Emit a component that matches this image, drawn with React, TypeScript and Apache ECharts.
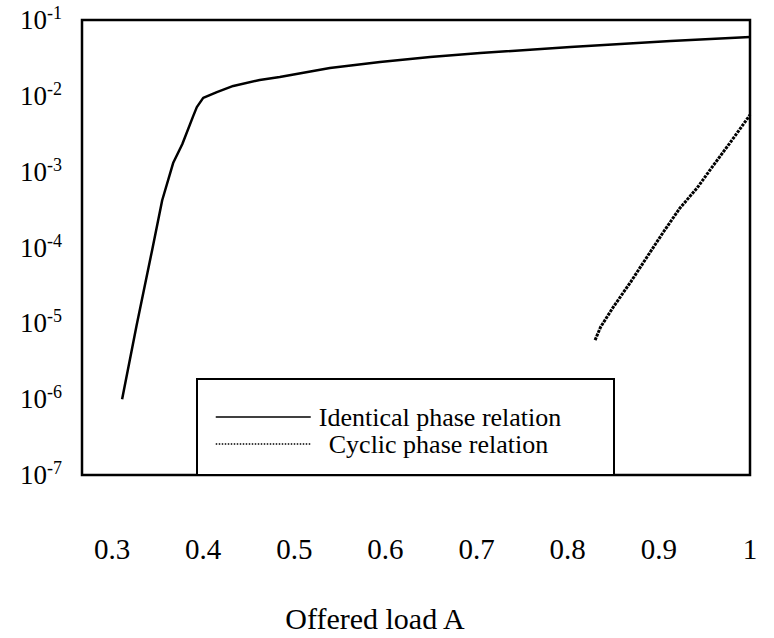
import React, { useEffect, useRef } from "react";
import * as echarts from "echarts";

// Offered load A (x) and blocking probability (y)
const identicalLoad = [0.311, 0.327, 0.344, 0.355, 0.367, 0.377, 0.389, 0.393, 0.4, 0.415, 0.433, 0.462, 0.484, 0.539, 0.594, 0.649, 0.704, 0.803, 0.913, 1.0];
const identicalProb = [1.0e-6, 9.5e-6, 9.3e-5, 4.2e-4, 1.3e-3, 2.3e-3, 5.4e-3, 7.1e-3, 9.4e-3, 1.12e-2, 1.35e-2, 1.62e-2, 1.77e-2, 2.33e-2, 2.79e-2, 3.25e-2, 3.67e-2, 4.41e-2, 5.28e-2, 5.97e-2];

const cyclicLoad = [0.83, 0.836, 0.85, 0.869, 0.887, 0.905, 0.923, 0.942, 0.96, 0.978, 1.0];
const cyclicProb = [6.0e-6, 8.9e-6, 1.64e-5, 3.5e-5, 7.5e-5, 1.6e-4, 3.3e-4, 6.1e-4, 1.22e-3, 2.39e-3, 5.6e-3];

const xTickValues = [0.3, 0.4, 0.5, 0.6, 0.7, 0.8, 0.9, 1.0];
const seriesNames = ["Identical phase relation", "Cyclic phase relation"];
const xAxisTitle = "Offered load A";

const FONT = "'Liberation Serif', 'Times New Roman', serif";

export default function App() {
  const ref = useRef<HTMLDivElement>(null);

  useEffect(() => {
    if (!ref.current) return;
    const chart = echarts.init(ref.current, undefined, { renderer: "svg" });
    const pair = (xs: number[], ys: number[]) => xs.map((x, i) => [x, ys[i]]);

    chart.setOption({
      animation: false,
      backgroundColor: "#fff",
      textStyle: { fontFamily: FONT, color: "#000" },
      grid: {
        left: 82,
        right: 24,
        top: 20,
        bottom: 163,
        show: true,
        borderColor: "#000",
        borderWidth: 2.5,
        backgroundColor: "transparent",
      },
      xAxis: {
        type: "value",
        min: 0.267,
        max: 1.0,
        name: xAxisTitle,
        nameLocation: "middle",
        nameGap: 128,
        nameTextStyle: {
          fontFamily: FONT,
          fontSize: 30,
          color: "#000",
          lineHeight: 30,
          padding: [0, 82, 0, 0],
        },
        axisLine: { show: false },
        axisTick: { show: false },
        splitLine: { show: false },
        axisLabel: {
          customValues: xTickValues,
          margin: 60,
          fontFamily: FONT,
          fontSize: 29,
          lineHeight: 28,
          color: "#000",
          formatter: (v: number) => String(Number(v.toFixed(1))),
        },
      },
      yAxis: {
        type: "log",
        logBase: 10,
        min: 1e-7,
        max: 1e-1,
        axisLine: { show: false },
        axisTick: { show: false },
        splitLine: { show: false },
        minorTick: { show: false },
        axisLabel: {
          margin: 20,
          formatter: (v: number) => {
            const e = Math.round(Math.log10(v));
            return `{b|10}{s|${e}}`;
          },
          rich: {
            b: { fontFamily: FONT, fontSize: 27, lineHeight: 32, color: "#000" },
            s: { fontFamily: FONT, fontSize: 18, lineHeight: 20, verticalAlign: "top", color: "#000" },
          },
        },
      },
      legend: {
        orient: "vertical",
        left: 215,
        top: 404,
        padding: 0,
        itemWidth: 95,
        itemHeight: 14,
        itemGap: 1,
        itemStyle: { opacity: 0 },
        textStyle: { fontFamily: FONT, fontSize: 26, lineHeight: 24, color: "#000" },
        data: [
          {
            name: seriesNames[0],
            lineStyle: { width: 1.5, type: "solid" },
            textStyle: { padding: [0, 0, 0, 3] },
          },
          {
            name: seriesNames[1],
            lineStyle: { width: 1.5, type: "dotted" },
            textStyle: { padding: [0, 0, 0, 13] },
          },
        ],
      },
      graphic: [
        {
          type: "rect",
          z: 3,
          shape: { x: 197, y: 379, width: 417, height: 96 },
          style: { fill: "#fff", stroke: "#000", lineWidth: 2 },
        },
      ],
      series: [
        {
          name: seriesNames[0],
          type: "line",
          data: pair(identicalLoad, identicalProb),
          symbol: "none",
          smooth: false,
          lineStyle: { color: "#000", width: 2.5 },
          itemStyle: { color: "#000" },
        },
        {
          name: seriesNames[1],
          type: "line",
          data: pair(cyclicLoad, cyclicProb),
          symbol: "none",
          smooth: false,
          lineStyle: { color: "#000", width: 3, type: [3, 1] },
          itemStyle: { color: "#000" },
        },
      ],
    });

    return () => chart.dispose();
  }, []);

  return (
    <div
      ref={ref}
      style={{ position: "fixed", left: 0, top: 0, width: 774, height: 638, background: "#fff" }}
    />
  );
}
